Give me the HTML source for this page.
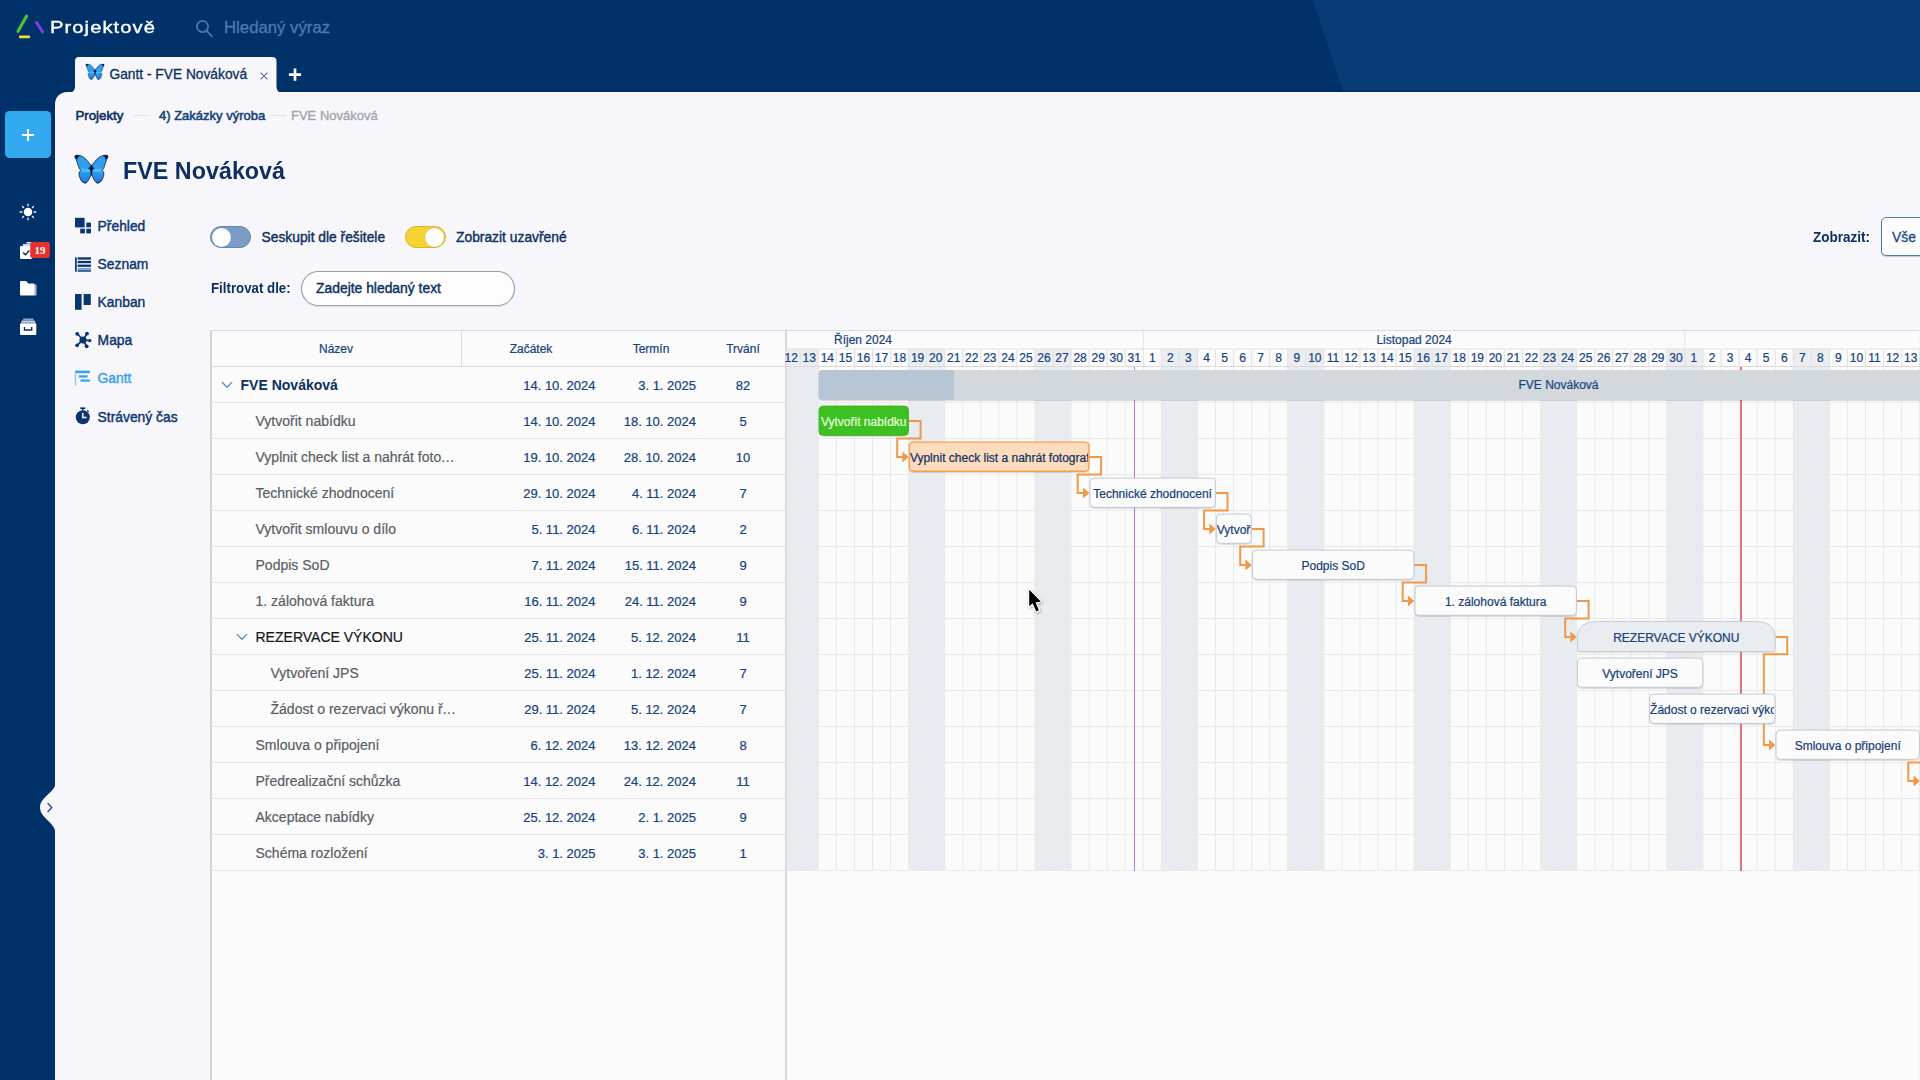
<!DOCTYPE html>
<html lang="cs"><head><meta charset="utf-8"><title>Gantt - FVE Nováková</title>
<style>
*{box-sizing:border-box;margin:0;padding:0}
html,body{width:1920px;height:1080px;overflow:hidden;background:#003168;}
body{font-family:"Liberation Sans",sans-serif;color:#0e2f61;position:relative;-webkit-font-smoothing:antialiased}
.abs{position:absolute}
.t{position:absolute;white-space:nowrap;line-height:1}
.m{-webkit-text-stroke:0.3px currentColor}
.g{-webkit-text-stroke:0.22px currentColor}
#hdr{left:0;top:0;width:1920px;height:92px;background:#003168}
#side{left:0;top:0;width:55px;height:1080px;background:#003168}
#panel{left:55px;top:92px;width:1865px;height:988px;background:#f7f7fb;border-top-left-radius:12px}
</style></head><body>
<div id="hdr" class="abs"></div>
<svg class="abs" style="left:0;top:0" width="1920" height="92"><polygon points="1313,0 1920,0 1920,92 1343,92 1336,70" fill="#093b75"/><rect x="0" y="90" width="1920" height="2" fill="#002a5e" opacity=".55"/></svg>
<div id="side" class="abs"></div>
<div id="panel" class="abs"></div>
<svg class="abs" style="left:10px;top:8px" width="44" height="36" viewBox="10 8 44 36">
<line x1="18" y1="31.3" x2="26.6" y2="16" stroke="#4fc23c" stroke-width="3.1" stroke-linecap="round"/>
<line x1="36.6" y1="22.6" x2="42.6" y2="32" stroke="#7a3fe0" stroke-width="3" stroke-linecap="round"/>
<line x1="20.2" y1="36.9" x2="28.8" y2="36.9" stroke="#f6d936" stroke-width="2.8" stroke-linecap="round"/>
</svg>
<div class="t" id="brand" style="left:50px;top:18.84px;font-size:17.2px;color:#fff;letter-spacing:.9px;transform-origin:0 50%;transform:scaleX(1.175);-webkit-text-stroke:.35px #fff">Projektově</div>
<svg class="abs" style="left:192px;top:16px" width="26" height="26" viewBox="192 16 26 26">
<circle cx="202.5" cy="26.5" r="5.6" fill="none" stroke="#4d78ab" stroke-width="1.8"/>
<line x1="206.6" y1="30.8" x2="212" y2="36.4" stroke="#4d78ab" stroke-width="1.9" stroke-linecap="round"/></svg>
<div class="t m" id="srch" style="left:224px;top:20.32px;font-size:16.75px;color:#4f7aad">Hledaný výraz</div>
<svg class="abs" style="left:66px;top:56px" width="222" height="38" viewBox="66 56 222 38">
<path d="M69,92.5 Q75,92.5 75,86.5 L75,61 Q75,57 79,57 L272,57 Q276.5,57 276.5,61 L276.5,86.5 Q276.5,92.5 282,92.5 L282,94 L69,94 Z" fill="#f7f7fb"/>
</svg>
<svg class="abs" style="left:81.29px;top:59.47px" width="33.07" height="25.35" viewBox="0 0 1409 1080"><defs><linearGradient id="bwg" x1="0" y1="210" x2="0" y2="880" gradientUnits="userSpaceOnUse"><stop offset="0" stop-color="#2f9bf0"/><stop offset=".45" stop-color="#2e9ff0"/><stop offset=".55" stop-color="#4fc6fb"/><stop offset=".63" stop-color="#2c98ee"/><stop offset="1" stop-color="#2a74dc"/></linearGradient></defs><g>
<path id="bwing" d="M590,468 C560,418 475,305 420,268 C368,232 298,204 226,222 C204,229 204,252 216,272 C252,332 272,420 300,500 C312,540 330,560 352,572 C320,592 300,622 305,662 C312,742 360,830 420,864 C452,884 482,870 506,834 C546,778 572,718 589,664 Z" fill="url(#bwg)" stroke="#0a1830" stroke-width="18" stroke-linejoin="round"/>
<path d="M226,222 C204,229 204,252 216,272 C232,298 250,320 268,322 C262,284 282,252 322,236 C296,216 254,212 226,222Z" fill="#0a1424"/>
<path d="M330,780 C352,832 392,858 420,864 C452,884 482,870 506,834 C470,852 400,850 330,780Z" fill="#123a8c" opacity=".75"/>
<g transform="translate(1194,0) scale(-1,1)">
<path d="M590,468 C560,418 475,305 420,268 C368,232 298,204 226,222 C204,229 204,252 216,272 C252,332 272,420 300,500 C312,540 330,560 352,572 C320,592 300,622 305,662 C312,742 360,830 420,864 C452,884 482,870 506,834 C546,778 572,718 589,664 Z" fill="url(#bwg)" stroke="#0a1830" stroke-width="18" stroke-linejoin="round"/>
<path d="M226,222 C204,229 204,252 216,272 C232,298 250,320 268,322 C262,284 282,252 322,236 C296,216 254,212 226,222Z" fill="#0a1424"/>
<path d="M330,780 C352,832 392,858 420,864 C452,884 482,870 506,834 C470,852 400,850 330,780Z" fill="#123a8c" opacity=".75"/>
</g>
<path d="M520,522 L597,462 L674,522 L597,590Z" fill="#0c2c74"/>
<path d="M597,418 C614,470 618,520 614,600 C611,660 604,692 597,704 C590,692 583,660 580,600 C576,520 580,470 597,418Z" fill="#091322"/>
</g></svg>
<div class="t m" id="tabtxt" style="left:109.5px;top:67.85px;font-size:13.76px;color:#0e2f61">Gantt - FVE Nováková</div>
<svg class="abs" style="left:258px;top:70px" width="12" height="12" viewBox="0 0 12 12"><path d="M2.6,2.6 L9.4,9.4 M9.4,2.6 L2.6,9.4" stroke="#5b6f8c" stroke-width="1.1" fill="none"/></svg>
<svg class="abs" style="left:287px;top:67px" width="16" height="16" viewBox="0 0 16 16"><path d="M8,1.6 V13.8 M1.9,7.7 H14.1" stroke="#fff" stroke-width="2.7" fill="none"/></svg>
<div class="t m" id="bc1" style="left:75.5px;top:108.68px;font-size:13.25px;color:#0e2f61;-webkit-text-stroke:.6px currentColor">Projekty</div>
<div class="abs" style="left:134px;top:115px;width:15px;height:1px;background:#dfe1e6"></div>
<div class="t m" id="bc2" style="left:159px;top:108.9px;font-size:13px;color:#174279;-webkit-text-stroke:.55px currentColor">4) Zakázky výroba</div>
<div class="abs" style="left:271px;top:115px;width:15px;height:1px;background:#dfe1e6"></div>
<div class="t m" id="bc3" style="left:291px;top:108.9px;font-size:13px;color:#9fa5af;-webkit-text-stroke:.35px currentColor">FVE Nováková</div>
<svg class="abs" style="left:66px;top:146px" width="60" height="46" viewBox="0 0 1409 1080"><g>
<path id="bwing" d="M590,468 C560,418 475,305 420,268 C368,232 298,204 226,222 C204,229 204,252 216,272 C252,332 272,420 300,500 C312,540 330,560 352,572 C320,592 300,622 305,662 C312,742 360,830 420,864 C452,884 482,870 506,834 C546,778 572,718 589,664 Z" fill="url(#bwg)" stroke="#0a1830" stroke-width="18" stroke-linejoin="round"/>
<path d="M226,222 C204,229 204,252 216,272 C232,298 250,320 268,322 C262,284 282,252 322,236 C296,216 254,212 226,222Z" fill="#0a1424"/>
<path d="M330,780 C352,832 392,858 420,864 C452,884 482,870 506,834 C470,852 400,850 330,780Z" fill="#123a8c" opacity=".75"/>
<g transform="translate(1194,0) scale(-1,1)">
<path d="M590,468 C560,418 475,305 420,268 C368,232 298,204 226,222 C204,229 204,252 216,272 C252,332 272,420 300,500 C312,540 330,560 352,572 C320,592 300,622 305,662 C312,742 360,830 420,864 C452,884 482,870 506,834 C546,778 572,718 589,664 Z" fill="url(#bwg)" stroke="#0a1830" stroke-width="18" stroke-linejoin="round"/>
<path d="M226,222 C204,229 204,252 216,272 C232,298 250,320 268,322 C262,284 282,252 322,236 C296,216 254,212 226,222Z" fill="#0a1424"/>
<path d="M330,780 C352,832 392,858 420,864 C452,884 482,870 506,834 C470,852 400,850 330,780Z" fill="#123a8c" opacity=".75"/>
</g>
<path d="M520,522 L597,462 L674,522 L597,590Z" fill="#0c2c74"/>
<path d="M597,418 C614,470 618,520 614,600 C611,660 604,692 597,704 C590,692 583,660 580,600 C576,520 580,470 597,418Z" fill="#091322"/>
</g></svg>
<div class="t" id="title" style="left:123px;top:158.83px;font-size:24.3px;font-weight:bold;transform-origin:0 50%;transform:scaleX(.96);color:#0e2f61">FVE Nováková</div>
<div class="abs" style="left:5px;top:111px;width:46px;height:47px;background:#32a9ee;border-radius:4.5px"></div>
<svg class="abs" style="left:21px;top:128px" width="14" height="14" viewBox="0 0 14 14"><path d="M7,1 V13 M1,7 H13" stroke="#fff" stroke-width="2" fill="none"/></svg>
<svg class="abs" style="left:17.3px;top:201.4px" width="22" height="22" viewBox="-11 -11 22 22">
<circle r="4.3" fill="#fff"/><g stroke="#fff" stroke-width="1.3" stroke-linecap="round">
<path d="M0,-6.2V-7.8M0,6.2V7.8M-6.2,0H-7.8M6.2,0H7.8M-4.4,-4.4L-5.5,-5.5M4.4,4.4L5.5,5.5M-4.4,4.4L-5.5,5.5M4.4,-4.4L5.5,-5.5"/></g></svg>
<svg class="abs" style="left:19px;top:241px" width="32" height="19" viewBox="19 241 32 19">
<path d="M26.5,242 h6 v1.6 h-6z" fill="#e9eef6"/><path d="M22.8,243.9 h9 v2.4 h-9z" fill="#bfe0fb"/>
<rect x="20" y="246" width="12.3" height="12.9" rx="1" fill="#fdfdff"/>
<path d="M23.2,252.6 l2.3,2.2 l3.9,-4.2" stroke="#12305f" stroke-width="1.5" fill="none"/>
<rect x="30.2" y="242.1" width="19.7" height="16" rx="2" fill="#e6312f"/>
</svg>
<div class="t" style="left:30.2px;top:244.69px;width:19.7px;text-align:center;font-size:11px;font-weight:bold;color:#fff;font-family:'Liberation Serif',serif">19</div>
<svg class="abs" style="left:19px;top:280px" width="20" height="17" viewBox="19 280 20 17">
<path d="M34,284.5 h2.6 v11 h-2.6z" fill="#9fb3cf"/>
<path d="M20,282 q0,-1 1,-1 h5.2 l2,2.6 h5.3 q1,0 1,1 v9.9 q0,1 -1,1 h-12.5 q-1,0 -1,-1z" fill="#fff"/></svg>
<svg class="abs" style="left:19px;top:317px" width="20" height="20" viewBox="19 317 20 20">
<path d="M23.5,318.5 h9.5 l.8,1.8 h-11z" fill="#8fa8c9"/><path d="M22,320.6 h12.6 l1,2.2 h-14.6z" fill="#c5d2e4"/>
<rect x="20" y="323.2" width="16.3" height="11.8" rx="1" fill="#fff"/>
<path d="M24.5,327 v3 h7.2 v-3" stroke="#003168" stroke-width="1.4" fill="none"/></svg>
<svg class="abs" style="left:38px;top:780px" width="20" height="56" viewBox="38 780 20 56">
<path d="M55.5,783 C55.5,792 40,797 40,807.5 C40,818 55.5,823 55.5,833 Z" fill="#f7f7fb"/>
<path d="M48,803.5 l3.8,4 l-3.8,4" stroke="#2a4d7e" stroke-width="1.4" fill="none" stroke-linecap="round" stroke-linejoin="round"/></svg>
<svg class="abs" style="left:75px;top:217px" width="17" height="17" viewBox="0 0 17 17">
<rect x="0" y="0.8" width="9.6" height="9.6" fill="#0c3470"/><rect x="11.3" y="5.6" width="4.7" height="4.7" fill="#0c3470"/>
<rect x="5.2" y="11.7" width="4.7" height="4.7" fill="#0c3470"/><rect x="11.3" y="11.7" width="4.7" height="4.7" fill="#0c3470"/></svg>
<div class="t m" id="nav0" style="left:97.6px;top:219.58px;font-size:13.85px;color:#0c3470;-webkit-text-stroke:.4px currentColor">Přehled</div>
<svg class="abs" style="left:75px;top:257px" width="17" height="16" viewBox="0 0 17 16">
<g fill="#0c3470"><rect x="0" y="0.3" width="1.7" height="14.4"/>
<rect x="2.6" y="0.3" width="13.4" height="2.3"/><rect x="2.6" y="3.9" width="13.4" height="2.3"/><rect x="2.6" y="7.6" width="13.4" height="2.3"/></g>
<rect x="2.6" y="11.2" width="13.4" height="1.4" fill="#3a86d8"/><rect x="2.6" y="13.2" width="13.4" height="1.5" fill="#0c3470"/></svg>
<div class="t m" id="nav1" style="left:97.6px;top:257.58px;font-size:13.85px;color:#0c3470;-webkit-text-stroke:.4px currentColor">Seznam</div>
<svg class="abs" style="left:75px;top:293px" width="17" height="18" viewBox="0 0 17 18">
<rect x="0" y="1" width="6.6" height="15.8" fill="#0c3470"/><rect x="8.6" y="1" width="7.2" height="11" fill="#0c3470"/></svg>
<div class="t m" id="nav2" style="left:97.6px;top:295.78px;font-size:13.85px;color:#0c3470;-webkit-text-stroke:.4px currentColor">Kanban</div>
<svg class="abs" style="left:74px;top:331px" width="18" height="18" viewBox="-9 -9 18 18">
<g stroke="#0c3470" stroke-width="1.7"><path d="M0,0L-5.6,-6.2M0,0L4,-6.4M0,0L6.6,0.6M0,0L-5.8,5.2M0,0L3.6,6.2"/></g>
<g fill="#0c3470"><circle r="3.6"/><circle cx="-5.8" cy="-6.2" r="1.9"/><circle cx="4" cy="-6.4" r="1.9"/><circle cx="6.8" cy="0.6" r="1.7"/><circle cx="-5.9" cy="5.3" r="1.9"/><circle cx="3.7" cy="6.3" r="1.9"/></g></svg>
<div class="t m" id="nav3" style="left:97.6px;top:334.28px;font-size:13.85px;color:#0c3470;-webkit-text-stroke:.4px currentColor">Mapa</div>
<svg class="abs" style="left:74px;top:369px" width="18" height="18" viewBox="0 0 18 18">
<rect x="0.8" y="1.2" width="1.3" height="15.6" fill="#8cc4ef"/>
<rect x="2" y="1.6" width="13.8" height="2.6" fill="#3aa0e8"/><rect x="4.8" y="6.3" width="8.8" height="2.3" fill="#3aa0e8"/><rect x="6.6" y="10.4" width="9.2" height="2.3" fill="#3aa0e8"/></svg>
<div class="t m" id="nav4" style="left:97.6px;top:371.58px;font-size:13.85px;color:#3aa0e8;-webkit-text-stroke:.4px currentColor">Gantt</div>
<svg class="abs" style="left:74px;top:406px" width="18" height="20" viewBox="0 0 18 20">
<rect x="6.2" y="1.4" width="5" height="1.6" fill="#0c3470"/><rect x="8" y="2.4" width="1.5" height="2.4" fill="#0c3470"/>
<path d="M13.2,4.4 l1.4,1.4" stroke="#0c3470" stroke-width="1.3"/>
<circle cx="8.8" cy="11.3" r="7" fill="#0c3470"/>
<path d="M8.8,7 V11.6 H12.6" stroke="#f7f7fb" stroke-width="1.5" fill="none"/></svg>
<div class="t m" id="nav5" style="left:97.6px;top:410.68px;font-size:13.85px;color:#0c3470;-webkit-text-stroke:.4px currentColor">Strávený čas</div>
<div class="abs" style="left:210px;top:226px;width:41px;height:22px;border-radius:11px;background:#7b9cc5;border:1px solid #5f86b6"></div>
<div class="abs" style="left:211.5px;top:227.5px;width:19px;height:19px;border-radius:50%;background:#fdfdfe;box-shadow:0 0 1px rgba(0,0,0,.25)"></div>
<div class="t m" id="tg1" style="left:261.5px;top:231.2px;font-size:13.82px;color:#0e2f61;-webkit-text-stroke:.4px currentColor">Seskupit dle řešitele</div>
<div class="abs" style="left:405px;top:226px;width:40.5px;height:22px;border-radius:11px;background:#f6d232;border:1px solid #d9b62c"></div>
<div class="abs" style="left:425px;top:227.5px;width:19px;height:19px;border-radius:50%;background:#fdfdfe;box-shadow:0 0 1px rgba(0,0,0,.25)"></div>
<div class="t m" id="tg2" style="left:456px;top:231.18px;font-size:13.84px;color:#0e2f61;-webkit-text-stroke:.4px currentColor">Zobrazit uzavřené</div>
<div class="t" id="flt" style="left:211px;top:281.05px;font-size:14px;font-weight:bold;transform-origin:0 50%;transform:scaleX(.948);color:#0e2f61">Filtrovat dle:</div>
<div class="abs" style="left:300.5px;top:271px;width:214px;height:34.5px;border-radius:17.5px;background:#fdfdfd;border:1px solid #7c9bc8;border-top-color:#9a9ca3;border-bottom-color:#a3a6ad;box-shadow:0 1px 1px rgba(0,0,0,.12)"></div>
<div class="t m" id="ph" style="left:316px;top:281.95px;font-size:13.88px;color:#0e2f61;-webkit-text-stroke:.4px currentColor">Zadejte hledaný text</div>
<div class="t" id="zob" style="left:1813px;top:231.42px;font-size:13.8px;transform-origin:0 50%;transform:scaleX(.978);font-weight:bold;color:#0e2f61">Zobrazit:</div>
<div class="abs" style="left:1881px;top:217px;width:60px;height:39px;border-radius:5px;background:#fcfcfd;border:1.3px solid #4d7bb3;box-shadow:0 1px 1px rgba(0,0,0,.2)"></div>
<div class="t m" id="vse" style="left:1892px;top:231.38px;font-size:13.85px;color:#1b4a86">Vše</div>
<div class="abs" style="left:210px;top:330.0px;width:1709px;height:750.0px;background:#fbfbfb;border-top:1px solid #d9dadd;border-left:2px solid #d2d3d6"></div>
<div class="t g" id="h0" style="left:211px;width:250px;text-align:center;top:342.5px;font-size:12px;color:#18437d">Název</div>
<div class="t g" id="h1" style="left:481px;width:100px;text-align:center;top:342.5px;font-size:12px;color:#18437d">Začátek</div>
<div class="t g" id="h2" style="left:601px;width:100px;text-align:center;top:342.5px;font-size:12px;color:#18437d">Termín</div>
<div class="t g" id="h3" style="left:693px;width:100px;text-align:center;top:342.5px;font-size:12px;color:#18437d">Trvání</div>
<div class="abs" style="left:461px;top:331px;width:1px;height:36px;background:#d9dadd"></div>
<div class="abs" style="left:211px;top:366px;width:575px;height:1px;background:#d9dadd"></div>
<div class="abs" style="left:212px;top:402.0px;width:574px;height:1px;background:#e4e4e6"></div>
<svg class="abs" style="left:220.5px;top:380.7px" width="12" height="8" viewBox="0 0 12 8"><path d="M1.2,1.4 L6,6.2 L10.8,1.4" stroke="#5b85b8" stroke-width="1.3" fill="none" stroke-linecap="round" stroke-linejoin="round"/></svg>
<div class="t" id="n0" style="left:240.5px;top:378.33px;font-size:14.02px;font-weight:bold;color:#0e2f61">FVE Nováková</div>
<div class="t g" style="left:445.5px;width:150px;text-align:right;top:379.1px;font-size:13px;color:#18437d">14. 10. 2024</div>
<div class="t g" style="left:546px;width:150px;text-align:right;top:379.1px;font-size:13px;color:#18437d">3. 1. 2025</div>
<div class="t g" style="left:693px;width:100px;text-align:center;top:379.1px;font-size:13px;color:#18437d">82</div>
<div class="abs" style="left:212px;top:438.0px;width:574px;height:1px;background:#e4e4e6"></div>
<div class="t" id="n1" style="left:255.5px;top:414.33px;font-size:14.02px;color:#595e66;-webkit-text-stroke:.2px currentColor">Vytvořit nabídku</div>
<div class="t g" style="left:445.5px;width:150px;text-align:right;top:415.1px;font-size:13px;color:#18437d">14. 10. 2024</div>
<div class="t g" style="left:546px;width:150px;text-align:right;top:415.1px;font-size:13px;color:#18437d">18. 10. 2024</div>
<div class="t g" style="left:693px;width:100px;text-align:center;top:415.1px;font-size:13px;color:#18437d">5</div>
<div class="abs" style="left:212px;top:474.0px;width:574px;height:1px;background:#e4e4e6"></div>
<div class="t" id="n2" style="left:255.5px;top:450.33px;font-size:14.02px;color:#595e66;-webkit-text-stroke:.2px currentColor">Vyplnit check list a nahrát foto<span style="letter-spacing:.55px">...</span></div>
<div class="t g" style="left:445.5px;width:150px;text-align:right;top:451.1px;font-size:13px;color:#18437d">19. 10. 2024</div>
<div class="t g" style="left:546px;width:150px;text-align:right;top:451.1px;font-size:13px;color:#18437d">28. 10. 2024</div>
<div class="t g" style="left:693px;width:100px;text-align:center;top:451.1px;font-size:13px;color:#18437d">10</div>
<div class="abs" style="left:212px;top:510.0px;width:574px;height:1px;background:#e4e4e6"></div>
<div class="t" id="n3" style="left:255.5px;top:486.33px;font-size:14.02px;color:#595e66;-webkit-text-stroke:.2px currentColor">Technické zhodnocení</div>
<div class="t g" style="left:445.5px;width:150px;text-align:right;top:487.1px;font-size:13px;color:#18437d">29. 10. 2024</div>
<div class="t g" style="left:546px;width:150px;text-align:right;top:487.1px;font-size:13px;color:#18437d">4. 11. 2024</div>
<div class="t g" style="left:693px;width:100px;text-align:center;top:487.1px;font-size:13px;color:#18437d">7</div>
<div class="abs" style="left:212px;top:546.0px;width:574px;height:1px;background:#e4e4e6"></div>
<div class="t" id="n4" style="left:255.5px;top:522.33px;font-size:14.02px;color:#595e66;-webkit-text-stroke:.2px currentColor">Vytvořit smlouvu o dílo</div>
<div class="t g" style="left:445.5px;width:150px;text-align:right;top:523.1px;font-size:13px;color:#18437d">5. 11. 2024</div>
<div class="t g" style="left:546px;width:150px;text-align:right;top:523.1px;font-size:13px;color:#18437d">6. 11. 2024</div>
<div class="t g" style="left:693px;width:100px;text-align:center;top:523.1px;font-size:13px;color:#18437d">2</div>
<div class="abs" style="left:212px;top:582.0px;width:574px;height:1px;background:#e4e4e6"></div>
<div class="t" id="n5" style="left:255.5px;top:558.33px;font-size:14.02px;color:#595e66;-webkit-text-stroke:.2px currentColor">Podpis SoD</div>
<div class="t g" style="left:445.5px;width:150px;text-align:right;top:559.1px;font-size:13px;color:#18437d">7. 11. 2024</div>
<div class="t g" style="left:546px;width:150px;text-align:right;top:559.1px;font-size:13px;color:#18437d">15. 11. 2024</div>
<div class="t g" style="left:693px;width:100px;text-align:center;top:559.1px;font-size:13px;color:#18437d">9</div>
<div class="abs" style="left:212px;top:618.0px;width:574px;height:1px;background:#e4e4e6"></div>
<div class="t" id="n6" style="left:255.5px;top:594.33px;font-size:14.02px;color:#595e66;-webkit-text-stroke:.2px currentColor">1. zálohová faktura</div>
<div class="t g" style="left:445.5px;width:150px;text-align:right;top:595.1px;font-size:13px;color:#18437d">16. 11. 2024</div>
<div class="t g" style="left:546px;width:150px;text-align:right;top:595.1px;font-size:13px;color:#18437d">24. 11. 2024</div>
<div class="t g" style="left:693px;width:100px;text-align:center;top:595.1px;font-size:13px;color:#18437d">9</div>
<div class="abs" style="left:212px;top:654.0px;width:574px;height:1px;background:#e4e4e6"></div>
<svg class="abs" style="left:235.5px;top:632.7px" width="12" height="8" viewBox="0 0 12 8"><path d="M1.2,1.4 L6,6.2 L10.8,1.4" stroke="#5b85b8" stroke-width="1.3" fill="none" stroke-linecap="round" stroke-linejoin="round"/></svg>
<div class="t" id="n7" style="left:255.5px;top:630.33px;font-size:14.02px;color:#14171c;-webkit-text-stroke:.2px currentColor">REZERVACE VÝKONU</div>
<div class="t g" style="left:445.5px;width:150px;text-align:right;top:631.1px;font-size:13px;color:#18437d">25. 11. 2024</div>
<div class="t g" style="left:546px;width:150px;text-align:right;top:631.1px;font-size:13px;color:#18437d">5. 12. 2024</div>
<div class="t g" style="left:693px;width:100px;text-align:center;top:631.1px;font-size:13px;color:#18437d">11</div>
<div class="abs" style="left:212px;top:690.0px;width:574px;height:1px;background:#e4e4e6"></div>
<div class="t" id="n8" style="left:270.5px;top:666.33px;font-size:14.02px;color:#595e66;-webkit-text-stroke:.2px currentColor">Vytvoření JPS</div>
<div class="t g" style="left:445.5px;width:150px;text-align:right;top:667.1px;font-size:13px;color:#18437d">25. 11. 2024</div>
<div class="t g" style="left:546px;width:150px;text-align:right;top:667.1px;font-size:13px;color:#18437d">1. 12. 2024</div>
<div class="t g" style="left:693px;width:100px;text-align:center;top:667.1px;font-size:13px;color:#18437d">7</div>
<div class="abs" style="left:212px;top:726.0px;width:574px;height:1px;background:#e4e4e6"></div>
<div class="t" id="n9" style="left:270.5px;top:702.33px;font-size:14.02px;color:#595e66;-webkit-text-stroke:.2px currentColor">Žádost o rezervaci výkonu ř<span style="letter-spacing:.55px">...</span></div>
<div class="t g" style="left:445.5px;width:150px;text-align:right;top:703.1px;font-size:13px;color:#18437d">29. 11. 2024</div>
<div class="t g" style="left:546px;width:150px;text-align:right;top:703.1px;font-size:13px;color:#18437d">5. 12. 2024</div>
<div class="t g" style="left:693px;width:100px;text-align:center;top:703.1px;font-size:13px;color:#18437d">7</div>
<div class="abs" style="left:212px;top:762.0px;width:574px;height:1px;background:#e4e4e6"></div>
<div class="t" id="n10" style="left:255.5px;top:738.33px;font-size:14.02px;color:#595e66;-webkit-text-stroke:.2px currentColor">Smlouva o připojení</div>
<div class="t g" style="left:445.5px;width:150px;text-align:right;top:739.1px;font-size:13px;color:#18437d">6. 12. 2024</div>
<div class="t g" style="left:546px;width:150px;text-align:right;top:739.1px;font-size:13px;color:#18437d">13. 12. 2024</div>
<div class="t g" style="left:693px;width:100px;text-align:center;top:739.1px;font-size:13px;color:#18437d">8</div>
<div class="abs" style="left:212px;top:798.0px;width:574px;height:1px;background:#e4e4e6"></div>
<div class="t" id="n11" style="left:255.5px;top:774.33px;font-size:14.02px;color:#595e66;-webkit-text-stroke:.2px currentColor">Předrealizační schůzka</div>
<div class="t g" style="left:445.5px;width:150px;text-align:right;top:775.1px;font-size:13px;color:#18437d">14. 12. 2024</div>
<div class="t g" style="left:546px;width:150px;text-align:right;top:775.1px;font-size:13px;color:#18437d">24. 12. 2024</div>
<div class="t g" style="left:693px;width:100px;text-align:center;top:775.1px;font-size:13px;color:#18437d">11</div>
<div class="abs" style="left:212px;top:834.0px;width:574px;height:1px;background:#e4e4e6"></div>
<div class="t" id="n12" style="left:255.5px;top:810.33px;font-size:14.02px;color:#595e66;-webkit-text-stroke:.2px currentColor">Akceptace nabídky</div>
<div class="t g" style="left:445.5px;width:150px;text-align:right;top:811.1px;font-size:13px;color:#18437d">25. 12. 2024</div>
<div class="t g" style="left:546px;width:150px;text-align:right;top:811.1px;font-size:13px;color:#18437d">2. 1. 2025</div>
<div class="t g" style="left:693px;width:100px;text-align:center;top:811.1px;font-size:13px;color:#18437d">9</div>
<div class="abs" style="left:212px;top:870.0px;width:574px;height:1px;background:#e4e4e6"></div>
<div class="t" id="n13" style="left:255.5px;top:846.33px;font-size:14.02px;color:#595e66;-webkit-text-stroke:.2px currentColor">Schéma rozložení</div>
<div class="t g" style="left:445.5px;width:150px;text-align:right;top:847.1px;font-size:13px;color:#18437d">3. 1. 2025</div>
<div class="t g" style="left:546px;width:150px;text-align:right;top:847.1px;font-size:13px;color:#18437d">3. 1. 2025</div>
<div class="t g" style="left:693px;width:100px;text-align:center;top:847.1px;font-size:13px;color:#18437d">1</div>
<div class="abs" style="left:785px;top:331px;width:1.5px;height:749px;background:#d6d7db"></div>
<svg class="abs" style="left:0;top:0" width="1920" height="1080"><rect x="786.50" y="367.0" width="13.75" height="504.0" fill="#e8ebef"/><rect x="786.50" y="349" width="13.75" height="18" fill="#ebedf0"/><rect x="800.25" y="367.0" width="18.05" height="504.0" fill="#e8ebef"/><rect x="800.25" y="349" width="18.05" height="18" fill="#ebedf0"/><rect x="908.59" y="367.0" width="18.05" height="504.0" fill="#e8ebef"/><rect x="908.59" y="349" width="18.05" height="18" fill="#ebedf0"/><rect x="926.64" y="367.0" width="18.05" height="504.0" fill="#e8ebef"/><rect x="926.64" y="349" width="18.05" height="18" fill="#ebedf0"/><rect x="1034.97" y="367.0" width="18.06" height="504.0" fill="#e8ebef"/><rect x="1034.97" y="349" width="18.06" height="18" fill="#ebedf0"/><rect x="1053.03" y="367.0" width="18.06" height="504.0" fill="#e8ebef"/><rect x="1053.03" y="349" width="18.06" height="18" fill="#ebedf0"/><rect x="1161.36" y="367.0" width="18.06" height="504.0" fill="#e8ebef"/><rect x="1161.36" y="349" width="18.06" height="18" fill="#ebedf0"/><rect x="1179.41" y="367.0" width="18.06" height="504.0" fill="#e8ebef"/><rect x="1179.41" y="349" width="18.06" height="18" fill="#ebedf0"/><rect x="1287.74" y="367.0" width="18.06" height="504.0" fill="#e8ebef"/><rect x="1287.74" y="349" width="18.06" height="18" fill="#ebedf0"/><rect x="1305.80" y="367.0" width="18.06" height="504.0" fill="#e8ebef"/><rect x="1305.80" y="349" width="18.06" height="18" fill="#ebedf0"/><rect x="1414.12" y="367.0" width="18.06" height="504.0" fill="#e8ebef"/><rect x="1414.12" y="349" width="18.06" height="18" fill="#ebedf0"/><rect x="1432.18" y="367.0" width="18.06" height="504.0" fill="#e8ebef"/><rect x="1432.18" y="349" width="18.06" height="18" fill="#ebedf0"/><rect x="1540.51" y="367.0" width="18.06" height="504.0" fill="#e8ebef"/><rect x="1540.51" y="349" width="18.06" height="18" fill="#ebedf0"/><rect x="1558.57" y="367.0" width="18.06" height="504.0" fill="#e8ebef"/><rect x="1558.57" y="349" width="18.06" height="18" fill="#ebedf0"/><rect x="1666.89" y="367.0" width="18.06" height="504.0" fill="#e8ebef"/><rect x="1666.89" y="349" width="18.06" height="18" fill="#ebedf0"/><rect x="1684.95" y="367.0" width="18.06" height="504.0" fill="#e8ebef"/><rect x="1684.95" y="349" width="18.06" height="18" fill="#ebedf0"/><rect x="1793.28" y="367.0" width="18.06" height="504.0" fill="#e8ebef"/><rect x="1793.28" y="349" width="18.06" height="18" fill="#ebedf0"/><rect x="1811.34" y="367.0" width="18.06" height="504.0" fill="#e8ebef"/><rect x="1811.34" y="349" width="18.06" height="18" fill="#ebedf0"/><rect x="1919.66" y="367.0" width="0.34" height="504.0" fill="#e8ebef"/><rect x="1919.66" y="349" width="0.34" height="18" fill="#ebedf0"/><rect x="799.75" y="367" width="1" height="504.0" fill="#e9e9ea"/><rect x="799.75" y="349" width="1" height="18" fill="#dfe0e3"/><rect x="817.81" y="367" width="1" height="504.0" fill="#e9e9ea"/><rect x="817.81" y="349" width="1" height="18" fill="#dfe0e3"/><rect x="835.87" y="367" width="1" height="504.0" fill="#e9e9ea"/><rect x="835.87" y="349" width="1" height="18" fill="#dfe0e3"/><rect x="853.92" y="367" width="1" height="504.0" fill="#e9e9ea"/><rect x="853.92" y="349" width="1" height="18" fill="#dfe0e3"/><rect x="871.98" y="367" width="1" height="504.0" fill="#e9e9ea"/><rect x="871.98" y="349" width="1" height="18" fill="#dfe0e3"/><rect x="890.03" y="367" width="1" height="504.0" fill="#e9e9ea"/><rect x="890.03" y="349" width="1" height="18" fill="#dfe0e3"/><rect x="908.09" y="367" width="1" height="504.0" fill="#e9e9ea"/><rect x="908.09" y="349" width="1" height="18" fill="#dfe0e3"/><rect x="926.14" y="367" width="1" height="504.0" fill="#e9e9ea"/><rect x="926.14" y="349" width="1" height="18" fill="#dfe0e3"/><rect x="944.20" y="367" width="1" height="504.0" fill="#e9e9ea"/><rect x="944.20" y="349" width="1" height="18" fill="#dfe0e3"/><rect x="962.25" y="367" width="1" height="504.0" fill="#e9e9ea"/><rect x="962.25" y="349" width="1" height="18" fill="#dfe0e3"/><rect x="980.31" y="367" width="1" height="504.0" fill="#e9e9ea"/><rect x="980.31" y="349" width="1" height="18" fill="#dfe0e3"/><rect x="998.36" y="367" width="1" height="504.0" fill="#e9e9ea"/><rect x="998.36" y="349" width="1" height="18" fill="#dfe0e3"/><rect x="1016.42" y="367" width="1" height="504.0" fill="#e9e9ea"/><rect x="1016.42" y="349" width="1" height="18" fill="#dfe0e3"/><rect x="1034.47" y="367" width="1" height="504.0" fill="#e9e9ea"/><rect x="1034.47" y="349" width="1" height="18" fill="#dfe0e3"/><rect x="1052.53" y="367" width="1" height="504.0" fill="#e9e9ea"/><rect x="1052.53" y="349" width="1" height="18" fill="#dfe0e3"/><rect x="1070.58" y="367" width="1" height="504.0" fill="#e9e9ea"/><rect x="1070.58" y="349" width="1" height="18" fill="#dfe0e3"/><rect x="1088.63" y="367" width="1" height="504.0" fill="#e9e9ea"/><rect x="1088.63" y="349" width="1" height="18" fill="#dfe0e3"/><rect x="1106.69" y="367" width="1" height="504.0" fill="#e9e9ea"/><rect x="1106.69" y="349" width="1" height="18" fill="#dfe0e3"/><rect x="1124.75" y="367" width="1" height="504.0" fill="#e9e9ea"/><rect x="1124.75" y="349" width="1" height="18" fill="#dfe0e3"/><rect x="1142.80" y="367" width="1" height="504.0" fill="#e9e9ea"/><rect x="1142.80" y="349" width="1" height="18" fill="#dfe0e3"/><rect x="1160.86" y="367" width="1" height="504.0" fill="#e9e9ea"/><rect x="1160.86" y="349" width="1" height="18" fill="#dfe0e3"/><rect x="1178.91" y="367" width="1" height="504.0" fill="#e9e9ea"/><rect x="1178.91" y="349" width="1" height="18" fill="#dfe0e3"/><rect x="1196.97" y="367" width="1" height="504.0" fill="#e9e9ea"/><rect x="1196.97" y="349" width="1" height="18" fill="#dfe0e3"/><rect x="1215.02" y="367" width="1" height="504.0" fill="#e9e9ea"/><rect x="1215.02" y="349" width="1" height="18" fill="#dfe0e3"/><rect x="1233.08" y="367" width="1" height="504.0" fill="#e9e9ea"/><rect x="1233.08" y="349" width="1" height="18" fill="#dfe0e3"/><rect x="1251.13" y="367" width="1" height="504.0" fill="#e9e9ea"/><rect x="1251.13" y="349" width="1" height="18" fill="#dfe0e3"/><rect x="1269.18" y="367" width="1" height="504.0" fill="#e9e9ea"/><rect x="1269.18" y="349" width="1" height="18" fill="#dfe0e3"/><rect x="1287.24" y="367" width="1" height="504.0" fill="#e9e9ea"/><rect x="1287.24" y="349" width="1" height="18" fill="#dfe0e3"/><rect x="1305.30" y="367" width="1" height="504.0" fill="#e9e9ea"/><rect x="1305.30" y="349" width="1" height="18" fill="#dfe0e3"/><rect x="1323.35" y="367" width="1" height="504.0" fill="#e9e9ea"/><rect x="1323.35" y="349" width="1" height="18" fill="#dfe0e3"/><rect x="1341.41" y="367" width="1" height="504.0" fill="#e9e9ea"/><rect x="1341.41" y="349" width="1" height="18" fill="#dfe0e3"/><rect x="1359.46" y="367" width="1" height="504.0" fill="#e9e9ea"/><rect x="1359.46" y="349" width="1" height="18" fill="#dfe0e3"/><rect x="1377.51" y="367" width="1" height="504.0" fill="#e9e9ea"/><rect x="1377.51" y="349" width="1" height="18" fill="#dfe0e3"/><rect x="1395.57" y="367" width="1" height="504.0" fill="#e9e9ea"/><rect x="1395.57" y="349" width="1" height="18" fill="#dfe0e3"/><rect x="1413.62" y="367" width="1" height="504.0" fill="#e9e9ea"/><rect x="1413.62" y="349" width="1" height="18" fill="#dfe0e3"/><rect x="1431.68" y="367" width="1" height="504.0" fill="#e9e9ea"/><rect x="1431.68" y="349" width="1" height="18" fill="#dfe0e3"/><rect x="1449.74" y="367" width="1" height="504.0" fill="#e9e9ea"/><rect x="1449.74" y="349" width="1" height="18" fill="#dfe0e3"/><rect x="1467.79" y="367" width="1" height="504.0" fill="#e9e9ea"/><rect x="1467.79" y="349" width="1" height="18" fill="#dfe0e3"/><rect x="1485.85" y="367" width="1" height="504.0" fill="#e9e9ea"/><rect x="1485.85" y="349" width="1" height="18" fill="#dfe0e3"/><rect x="1503.90" y="367" width="1" height="504.0" fill="#e9e9ea"/><rect x="1503.90" y="349" width="1" height="18" fill="#dfe0e3"/><rect x="1521.95" y="367" width="1" height="504.0" fill="#e9e9ea"/><rect x="1521.95" y="349" width="1" height="18" fill="#dfe0e3"/><rect x="1540.01" y="367" width="1" height="504.0" fill="#e9e9ea"/><rect x="1540.01" y="349" width="1" height="18" fill="#dfe0e3"/><rect x="1558.07" y="367" width="1" height="504.0" fill="#e9e9ea"/><rect x="1558.07" y="349" width="1" height="18" fill="#dfe0e3"/><rect x="1576.12" y="367" width="1" height="504.0" fill="#e9e9ea"/><rect x="1576.12" y="349" width="1" height="18" fill="#dfe0e3"/><rect x="1594.18" y="367" width="1" height="504.0" fill="#e9e9ea"/><rect x="1594.18" y="349" width="1" height="18" fill="#dfe0e3"/><rect x="1612.23" y="367" width="1" height="504.0" fill="#e9e9ea"/><rect x="1612.23" y="349" width="1" height="18" fill="#dfe0e3"/><rect x="1630.29" y="367" width="1" height="504.0" fill="#e9e9ea"/><rect x="1630.29" y="349" width="1" height="18" fill="#dfe0e3"/><rect x="1648.34" y="367" width="1" height="504.0" fill="#e9e9ea"/><rect x="1648.34" y="349" width="1" height="18" fill="#dfe0e3"/><rect x="1666.39" y="367" width="1" height="504.0" fill="#e9e9ea"/><rect x="1666.39" y="349" width="1" height="18" fill="#dfe0e3"/><rect x="1684.45" y="367" width="1" height="504.0" fill="#e9e9ea"/><rect x="1684.45" y="349" width="1" height="18" fill="#dfe0e3"/><rect x="1702.51" y="367" width="1" height="504.0" fill="#e9e9ea"/><rect x="1702.51" y="349" width="1" height="18" fill="#dfe0e3"/><rect x="1720.56" y="367" width="1" height="504.0" fill="#e9e9ea"/><rect x="1720.56" y="349" width="1" height="18" fill="#dfe0e3"/><rect x="1738.62" y="367" width="1" height="504.0" fill="#e9e9ea"/><rect x="1738.62" y="349" width="1" height="18" fill="#dfe0e3"/><rect x="1756.67" y="367" width="1" height="504.0" fill="#e9e9ea"/><rect x="1756.67" y="349" width="1" height="18" fill="#dfe0e3"/><rect x="1774.72" y="367" width="1" height="504.0" fill="#e9e9ea"/><rect x="1774.72" y="349" width="1" height="18" fill="#dfe0e3"/><rect x="1792.78" y="367" width="1" height="504.0" fill="#e9e9ea"/><rect x="1792.78" y="349" width="1" height="18" fill="#dfe0e3"/><rect x="1810.84" y="367" width="1" height="504.0" fill="#e9e9ea"/><rect x="1810.84" y="349" width="1" height="18" fill="#dfe0e3"/><rect x="1828.89" y="367" width="1" height="504.0" fill="#e9e9ea"/><rect x="1828.89" y="349" width="1" height="18" fill="#dfe0e3"/><rect x="1846.94" y="367" width="1" height="504.0" fill="#e9e9ea"/><rect x="1846.94" y="349" width="1" height="18" fill="#dfe0e3"/><rect x="1865.00" y="367" width="1" height="504.0" fill="#e9e9ea"/><rect x="1865.00" y="349" width="1" height="18" fill="#dfe0e3"/><rect x="1883.06" y="367" width="1" height="504.0" fill="#e9e9ea"/><rect x="1883.06" y="349" width="1" height="18" fill="#dfe0e3"/><rect x="1901.11" y="367" width="1" height="504.0" fill="#e9e9ea"/><rect x="1901.11" y="349" width="1" height="18" fill="#dfe0e3"/><rect x="1919.16" y="367" width="1" height="504.0" fill="#e9e9ea"/><rect x="1919.16" y="349" width="1" height="18" fill="#dfe0e3"/><rect x="786.5" y="366.0" width="1133.5" height="1" fill="#d9dadd"/><rect x="786.5" y="402.0" width="1133.5" height="1" fill="#e9e9ea"/><rect x="786.5" y="438.0" width="1133.5" height="1" fill="#e9e9ea"/><rect x="786.5" y="474.0" width="1133.5" height="1" fill="#e9e9ea"/><rect x="786.5" y="510.0" width="1133.5" height="1" fill="#e9e9ea"/><rect x="786.5" y="546.0" width="1133.5" height="1" fill="#e9e9ea"/><rect x="786.5" y="582.0" width="1133.5" height="1" fill="#e9e9ea"/><rect x="786.5" y="618.0" width="1133.5" height="1" fill="#e9e9ea"/><rect x="786.5" y="654.0" width="1133.5" height="1" fill="#e9e9ea"/><rect x="786.5" y="690.0" width="1133.5" height="1" fill="#e9e9ea"/><rect x="786.5" y="726.0" width="1133.5" height="1" fill="#e9e9ea"/><rect x="786.5" y="762.0" width="1133.5" height="1" fill="#e9e9ea"/><rect x="786.5" y="798.0" width="1133.5" height="1" fill="#e9e9ea"/><rect x="786.5" y="834.0" width="1133.5" height="1" fill="#e9e9ea"/><rect x="786.5" y="870.0" width="1133.5" height="1" fill="#e9e9ea"/><rect x="786.5" y="348.5" width="1133.5" height="1" fill="#e1e2e5"/><rect x="1142.80" y="331" width="1" height="18" fill="#e1e2e5"/><rect x="1684.45" y="331" width="1" height="18" fill="#e1e2e5"/></svg>
<div class="t g" id="mo1" style="left:834px;top:334px;font-size:12px;color:#18437d">Říjen 2024</div>
<div class="t g" id="mo2" style="left:1143.3px;width:541.6px;text-align:center;top:334px;font-size:12px;color:#18437d">Listopad 2024</div>
<div class="t g" style="left:782.20px;width:18.055px;text-align:center;top:352px;font-size:12px;color:#18437d">12</div>
<div class="t g" style="left:800.25px;width:18.055px;text-align:center;top:352px;font-size:12px;color:#18437d">13</div>
<div class="t g" style="left:818.31px;width:18.055px;text-align:center;top:352px;font-size:12px;color:#18437d">14</div>
<div class="t g" style="left:836.37px;width:18.055px;text-align:center;top:352px;font-size:12px;color:#18437d">15</div>
<div class="t g" style="left:854.42px;width:18.055px;text-align:center;top:352px;font-size:12px;color:#18437d">16</div>
<div class="t g" style="left:872.48px;width:18.055px;text-align:center;top:352px;font-size:12px;color:#18437d">17</div>
<div class="t g" style="left:890.53px;width:18.055px;text-align:center;top:352px;font-size:12px;color:#18437d">18</div>
<div class="t g" style="left:908.59px;width:18.055px;text-align:center;top:352px;font-size:12px;color:#18437d">19</div>
<div class="t g" style="left:926.64px;width:18.055px;text-align:center;top:352px;font-size:12px;color:#18437d">20</div>
<div class="t g" style="left:944.70px;width:18.055px;text-align:center;top:352px;font-size:12px;color:#18437d">21</div>
<div class="t g" style="left:962.75px;width:18.055px;text-align:center;top:352px;font-size:12px;color:#18437d">22</div>
<div class="t g" style="left:980.81px;width:18.055px;text-align:center;top:352px;font-size:12px;color:#18437d">23</div>
<div class="t g" style="left:998.86px;width:18.055px;text-align:center;top:352px;font-size:12px;color:#18437d">24</div>
<div class="t g" style="left:1016.92px;width:18.055px;text-align:center;top:352px;font-size:12px;color:#18437d">25</div>
<div class="t g" style="left:1034.97px;width:18.055px;text-align:center;top:352px;font-size:12px;color:#18437d">26</div>
<div class="t g" style="left:1053.03px;width:18.055px;text-align:center;top:352px;font-size:12px;color:#18437d">27</div>
<div class="t g" style="left:1071.08px;width:18.055px;text-align:center;top:352px;font-size:12px;color:#18437d">28</div>
<div class="t g" style="left:1089.13px;width:18.055px;text-align:center;top:352px;font-size:12px;color:#18437d">29</div>
<div class="t g" style="left:1107.19px;width:18.055px;text-align:center;top:352px;font-size:12px;color:#18437d">30</div>
<div class="t g" style="left:1125.25px;width:18.055px;text-align:center;top:352px;font-size:12px;color:#18437d">31</div>
<div class="t g" style="left:1143.30px;width:18.055px;text-align:center;top:352px;font-size:12px;color:#18437d">1</div>
<div class="t g" style="left:1161.36px;width:18.055px;text-align:center;top:352px;font-size:12px;color:#18437d">2</div>
<div class="t g" style="left:1179.41px;width:18.055px;text-align:center;top:352px;font-size:12px;color:#18437d">3</div>
<div class="t g" style="left:1197.47px;width:18.055px;text-align:center;top:352px;font-size:12px;color:#18437d">4</div>
<div class="t g" style="left:1215.52px;width:18.055px;text-align:center;top:352px;font-size:12px;color:#18437d">5</div>
<div class="t g" style="left:1233.58px;width:18.055px;text-align:center;top:352px;font-size:12px;color:#18437d">6</div>
<div class="t g" style="left:1251.63px;width:18.055px;text-align:center;top:352px;font-size:12px;color:#18437d">7</div>
<div class="t g" style="left:1269.68px;width:18.055px;text-align:center;top:352px;font-size:12px;color:#18437d">8</div>
<div class="t g" style="left:1287.74px;width:18.055px;text-align:center;top:352px;font-size:12px;color:#18437d">9</div>
<div class="t g" style="left:1305.80px;width:18.055px;text-align:center;top:352px;font-size:12px;color:#18437d">10</div>
<div class="t g" style="left:1323.85px;width:18.055px;text-align:center;top:352px;font-size:12px;color:#18437d">11</div>
<div class="t g" style="left:1341.91px;width:18.055px;text-align:center;top:352px;font-size:12px;color:#18437d">12</div>
<div class="t g" style="left:1359.96px;width:18.055px;text-align:center;top:352px;font-size:12px;color:#18437d">13</div>
<div class="t g" style="left:1378.01px;width:18.055px;text-align:center;top:352px;font-size:12px;color:#18437d">14</div>
<div class="t g" style="left:1396.07px;width:18.055px;text-align:center;top:352px;font-size:12px;color:#18437d">15</div>
<div class="t g" style="left:1414.12px;width:18.055px;text-align:center;top:352px;font-size:12px;color:#18437d">16</div>
<div class="t g" style="left:1432.18px;width:18.055px;text-align:center;top:352px;font-size:12px;color:#18437d">17</div>
<div class="t g" style="left:1450.24px;width:18.055px;text-align:center;top:352px;font-size:12px;color:#18437d">18</div>
<div class="t g" style="left:1468.29px;width:18.055px;text-align:center;top:352px;font-size:12px;color:#18437d">19</div>
<div class="t g" style="left:1486.35px;width:18.055px;text-align:center;top:352px;font-size:12px;color:#18437d">20</div>
<div class="t g" style="left:1504.40px;width:18.055px;text-align:center;top:352px;font-size:12px;color:#18437d">21</div>
<div class="t g" style="left:1522.45px;width:18.055px;text-align:center;top:352px;font-size:12px;color:#18437d">22</div>
<div class="t g" style="left:1540.51px;width:18.055px;text-align:center;top:352px;font-size:12px;color:#18437d">23</div>
<div class="t g" style="left:1558.57px;width:18.055px;text-align:center;top:352px;font-size:12px;color:#18437d">24</div>
<div class="t g" style="left:1576.62px;width:18.055px;text-align:center;top:352px;font-size:12px;color:#18437d">25</div>
<div class="t g" style="left:1594.68px;width:18.055px;text-align:center;top:352px;font-size:12px;color:#18437d">26</div>
<div class="t g" style="left:1612.73px;width:18.055px;text-align:center;top:352px;font-size:12px;color:#18437d">27</div>
<div class="t g" style="left:1630.79px;width:18.055px;text-align:center;top:352px;font-size:12px;color:#18437d">28</div>
<div class="t g" style="left:1648.84px;width:18.055px;text-align:center;top:352px;font-size:12px;color:#18437d">29</div>
<div class="t g" style="left:1666.89px;width:18.055px;text-align:center;top:352px;font-size:12px;color:#18437d">30</div>
<div class="t g" style="left:1684.95px;width:18.055px;text-align:center;top:352px;font-size:12px;color:#18437d">1</div>
<div class="t g" style="left:1703.01px;width:18.055px;text-align:center;top:352px;font-size:12px;color:#18437d">2</div>
<div class="t g" style="left:1721.06px;width:18.055px;text-align:center;top:352px;font-size:12px;color:#18437d">3</div>
<div class="t g" style="left:1739.12px;width:18.055px;text-align:center;top:352px;font-size:12px;color:#18437d">4</div>
<div class="t g" style="left:1757.17px;width:18.055px;text-align:center;top:352px;font-size:12px;color:#18437d">5</div>
<div class="t g" style="left:1775.22px;width:18.055px;text-align:center;top:352px;font-size:12px;color:#18437d">6</div>
<div class="t g" style="left:1793.28px;width:18.055px;text-align:center;top:352px;font-size:12px;color:#18437d">7</div>
<div class="t g" style="left:1811.34px;width:18.055px;text-align:center;top:352px;font-size:12px;color:#18437d">8</div>
<div class="t g" style="left:1829.39px;width:18.055px;text-align:center;top:352px;font-size:12px;color:#18437d">9</div>
<div class="t g" style="left:1847.44px;width:18.055px;text-align:center;top:352px;font-size:12px;color:#18437d">10</div>
<div class="t g" style="left:1865.50px;width:18.055px;text-align:center;top:352px;font-size:12px;color:#18437d">11</div>
<div class="t g" style="left:1883.56px;width:18.055px;text-align:center;top:352px;font-size:12px;color:#18437d">12</div>
<div class="t g" style="left:1901.61px;width:18.055px;text-align:center;top:352px;font-size:12px;color:#18437d">13</div>
<div class="abs" style="left:1133.7px;top:367px;width:1.4px;height:504.0px;background:#b57ad6"></div>
<div class="abs" style="left:1740.4px;top:367px;width:1.6px;height:504.0px;background:#dc757d"></div>
<svg class="abs" style="left:0;top:0" width="1920" height="1080"><path d="M908.6,421.0 L920.6,421.0 L920.6,438.5 L897.2,438.5 L897.2,457.0 L903.6,457.0" stroke="#f1974a" stroke-width="2" fill="none" stroke-linejoin="miter"/><polygon points="902.4,451.4 908.8,457.0 902.4,462.6" fill="#f1974a"/><path d="M1089.1,457.0 L1101.1,457.0 L1101.1,474.5 L1077.7,474.5 L1077.7,493.0 L1084.1,493.0" stroke="#f1974a" stroke-width="2" fill="none" stroke-linejoin="miter"/><polygon points="1082.9,487.4 1089.3,493.0 1082.9,498.6" fill="#f1974a"/><path d="M1215.5,493.0 L1227.5,493.0 L1227.5,510.5 L1204.1,510.5 L1204.1,529.0 L1210.5,529.0" stroke="#f1974a" stroke-width="2" fill="none" stroke-linejoin="miter"/><polygon points="1209.3,523.4 1215.7,529.0 1209.3,534.6" fill="#f1974a"/><path d="M1251.6,529.0 L1263.6,529.0 L1263.6,546.5 L1240.2,546.5 L1240.2,565.0 L1246.6,565.0" stroke="#f1974a" stroke-width="2" fill="none" stroke-linejoin="miter"/><polygon points="1245.4,559.4 1251.8,565.0 1245.4,570.6" fill="#f1974a"/><path d="M1414.1,565.0 L1426.1,565.0 L1426.1,582.5 L1402.7,582.5 L1402.7,601.0 L1409.1,601.0" stroke="#f1974a" stroke-width="2" fill="none" stroke-linejoin="miter"/><polygon points="1407.9,595.4 1414.3,601.0 1407.9,606.6" fill="#f1974a"/><path d="M1576.6,601.0 L1588.6,601.0 L1588.6,618.5 L1565.2,618.5 L1565.2,637.0 L1571.6,637.0" stroke="#f1974a" stroke-width="2" fill="none" stroke-linejoin="miter"/><polygon points="1570.4,631.4 1576.8,637.0 1570.4,642.6" fill="#f1974a"/><path d="M1919.7,745.0 L1931.7,745.0 L1931.7,762.5 L1908.3,762.5 L1908.3,781.0 L1914.7,781.0" stroke="#f1974a" stroke-width="2" fill="none" stroke-linejoin="miter"/><polygon points="1913.5,775.4 1919.9,781.0 1913.5,786.6" fill="#f1974a"/><path d="M1775.2,637.0 L1787.2,637.0 L1787.2,654.2 L1763.8,654.2 L1763.8,745.0 L1770.2,745.0" stroke="#f1974a" stroke-width="2" fill="none"/><polygon points="1769.0,739.4 1775.4,745.0 1769.0,750.6" fill="#f1974a"/></svg>
<svg class="abs" style="left:0;top:0" width="1920" height="1080"><defs><filter id="sh" x="-5%" y="-20%" width="110%" height="150%"><feDropShadow dx="0" dy="0.8" stdDeviation="0.7" flood-color="#000" flood-opacity=".17"/></filter></defs><g filter="url(#sh)"><rect x="818.61" y="369.9" width="1116.39" height="30.2" rx="4" fill="#d3d8dd"/></g><path d="M822.61,369.9 H953.91 V400.09999999999997 H822.61 Q818.61,400.09999999999997 818.61,396.09999999999997 V373.9 Q818.61,369.9 822.61,369.9 Z" fill="#b6c4d4"/><rect x="819.11" y="406.1" width="89.27" height="29.2" rx="4" fill="#3cc124" stroke="#36b420" stroke-width="1" filter="url(#sh)"/><rect x="909.38" y="442.1" width="179.55" height="29.2" rx="4" fill="#fcdcbc" stroke="#f5a04e" stroke-width="1.4" filter="url(#sh)"/><rect x="1089.93" y="478.1" width="125.39" height="29.2" rx="4" fill="#fbfbfc" stroke="#c3cad5" stroke-width="1" filter="url(#sh)"/><rect x="1216.32" y="514.1" width="35.11" height="29.2" rx="4" fill="#fbfbfc" stroke="#c3cad5" stroke-width="1" filter="url(#sh)"/><rect x="1252.43" y="550.1" width="161.50" height="29.2" rx="4" fill="#fbfbfc" stroke="#c3cad5" stroke-width="1" filter="url(#sh)"/><rect x="1414.92" y="586.1" width="161.50" height="29.2" rx="4" fill="#fbfbfc" stroke="#c3cad5" stroke-width="1" filter="url(#sh)"/><path d="M1577.52,649.6 V636.4 Q1577.52,621.4 1598.52,621.4 H1754.12 Q1775.12,621.4 1775.12,636.4 V649.6 Q1775.12,651.6 1773.12,651.6 H1579.52 Q1577.52,651.6 1577.52,649.6 Z" fill="#e9ecf0" stroke="#c6ccd5" stroke-width="1" filter="url(#sh)"/><rect x="1577.42" y="658.1" width="125.39" height="29.2" rx="4" fill="#fbfbfc" stroke="#c3cad5" stroke-width="1" filter="url(#sh)"/><rect x="1649.64" y="694.1" width="125.38" height="29.2" rx="4" fill="#fbfbfc" stroke="#c3cad5" stroke-width="1" filter="url(#sh)"/><rect x="1776.02" y="730.1" width="143.44" height="29.2" rx="4" fill="#fbfbfc" stroke="#c3cad5" stroke-width="1" filter="url(#sh)"/><rect x="1920.46" y="766.1" width="14.04" height="29.2" rx="4" fill="#fbfbfc" stroke="#c3cad5" stroke-width="1" filter="url(#sh)"/></svg>
<div class="t g" id="pbt" style="left:1518.5px;top:379.04px;font-size:12px;color:#18437d">FVE Nováková</div>
<div class="abs g" id="b1" style="left:819.6px;top:405.6px;width:88.3px;height:30.2px;color:#e3ffdc;overflow:hidden"><span style="position:absolute;left:50%;top:10.24px;transform:translateX(-50%);white-space:nowrap;font-size:12px;line-height:1">Vytvořit nabídku</span></div>
<div class="abs g" id="b2" style="left:909.9px;top:441.6px;width:178.5px;height:30.2px;color:#0e2f61;overflow:hidden"><span style="position:absolute;left:0%;top:10.24px;transform:translateX(0%);white-space:nowrap;font-size:12px;line-height:1">Vyplnit check list a nahrát fotografie</span></div>
<div class="abs g" id="b3" style="left:1090.4px;top:477.6px;width:124.4px;height:30.2px;color:#1a3f76;overflow:hidden"><span style="position:absolute;left:50%;top:10.24px;transform:translateX(-50%);white-space:nowrap;font-size:12px;line-height:1">Technické zhodnocení</span></div>
<div class="abs g" id="b4" style="left:1216.8px;top:513.6px;width:34.1px;height:30.2px;color:#1a3f76;overflow:hidden"><span style="position:absolute;left:0%;top:10.24px;transform:translateX(0%);white-space:nowrap;font-size:12px;line-height:1">Vytvořit smlouvu o dílo</span></div>
<div class="abs g" id="b5" style="left:1252.9px;top:549.6px;width:160.5px;height:30.2px;color:#1a3f76;overflow:hidden"><span style="position:absolute;left:50%;top:10.24px;transform:translateX(-50%);white-space:nowrap;font-size:12px;line-height:1">Podpis SoD</span></div>
<div class="abs g" id="b6" style="left:1415.4px;top:585.6px;width:160.5px;height:30.2px;color:#1a3f76;overflow:hidden"><span style="position:absolute;left:50%;top:10.24px;transform:translateX(-50%);white-space:nowrap;font-size:12px;line-height:1">1. zálohová faktura</span></div>
<div class="abs g" id="b7" style="left:1578.5px;top:621.4px;width:195.6px;height:30.2px;color:#1a3f76;overflow:hidden"><span style="position:absolute;left:50%;top:10.24px;transform:translateX(-50%);white-space:nowrap;font-size:12px;line-height:1">REZERVACE VÝKONU</span></div>
<div class="abs g" id="b8" style="left:1577.9px;top:657.6px;width:124.4px;height:30.2px;color:#1a3f76;overflow:hidden"><span style="position:absolute;left:50%;top:10.24px;transform:translateX(-50%);white-space:nowrap;font-size:12px;line-height:1">Vytvoření JPS</span></div>
<div class="abs g" id="b9" style="left:1650.1px;top:693.6px;width:124.4px;height:30.2px;color:#1a3f76;overflow:hidden"><span style="position:absolute;left:0%;top:10.24px;transform:translateX(0%);white-space:nowrap;font-size:12px;line-height:1">Žádost o rezervaci výkonu řešiteli</span></div>
<div class="abs g" id="b10" style="left:1776.5px;top:729.6px;width:142.4px;height:30.2px;color:#1a3f76;overflow:hidden"><span style="position:absolute;left:50%;top:10.24px;transform:translateX(-50%);white-space:nowrap;font-size:12px;line-height:1">Smlouva o připojení</span></div>
<div class="abs g" id="b11" style="left:1921.0px;top:765.6px;width:13.0px;height:30.2px;color:#1a3f76;overflow:hidden"><span style="position:absolute;left:50%;top:10.24px;transform:translateX(-50%);white-space:nowrap;font-size:12px;line-height:1">Předrealizační schůzka</span></div>
<svg class="abs" style="left:1018px;top:580px" width="36" height="42" viewBox="1018 580 36 42">
<defs><filter id="csh" x="-30%" y="-30%" width="170%" height="170%"><feDropShadow dx="0.6" dy="1" stdDeviation="0.9" flood-color="#000" flood-opacity=".35"/></filter></defs>
<path d="M1029.2,589.8 L1029.2,606.2 L1032.6,603.3 L1036.3,611.4 L1038.9,610.3 L1035.6,602.6 L1040.9,601.4 Z" fill="#000" stroke="#fff" stroke-width="2.4" stroke-linejoin="round" paint-order="stroke" filter="url(#csh)"/></svg>
</body></html>
